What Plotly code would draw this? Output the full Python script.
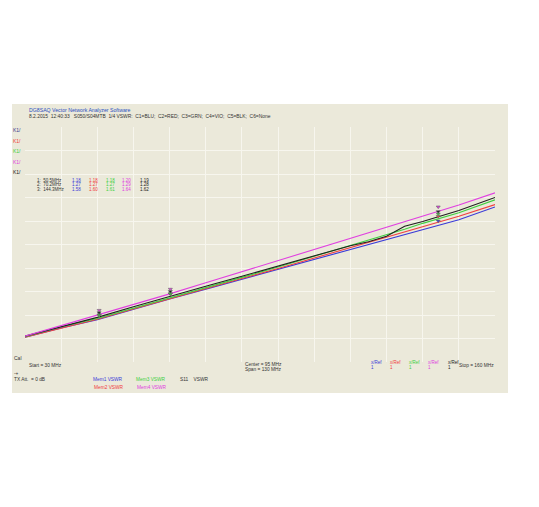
import plotly.graph_objects as go

# ---------------- data ----------------
freq_mhz = [30, 40, 50, 60, 70, 80, 90, 100, 110, 120, 125, 130, 135, 140, 150, 160]

vswr_blue    = [1.105, 1.145, 1.180, 1.225, 1.268, 1.310, 1.352, 1.395, 1.438, 1.480, 1.500, 1.520, 1.542, 1.563, 1.605, 1.660]
vswr_red     = [1.105, 1.145, 1.182, 1.226, 1.270, 1.312, 1.355, 1.398, 1.442, 1.486, 1.508, 1.530, 1.552, 1.575, 1.620, 1.670]
vswr_green   = [1.108, 1.150, 1.185, 1.228, 1.272, 1.315, 1.360, 1.404, 1.450, 1.495, 1.517, 1.540, 1.565, 1.590, 1.635, 1.690]
vswr_magenta = [1.110, 1.155, 1.198, 1.244, 1.290, 1.337, 1.384, 1.430, 1.477, 1.524, 1.548, 1.572, 1.596, 1.620, 1.668, 1.720]
vswr_black   = [1.110, 1.150, 1.190, 1.235, 1.280, 1.322, 1.365, 1.408, 1.452, 1.495, 1.512, 1.535, 1.578, 1.598, 1.645, 1.700]

trace_names = ["C1", "C2", "C3", "C4", "C5"]
trace_colors = ["#3a3ad8", "#f04040", "#40d040", "#e040e0", "#202020"]

marker_freqs = [50.5, 70.2, 144.3]
marker_labels = ["1:  50.5MHz", "2:  70.2MHz", "3:  144.3MHz"]
marker_blue    = [1.18, 1.27, 1.58]
marker_red     = [1.18, 1.27, 1.60]
marker_green   = [1.18, 1.27, 1.61]
marker_magenta = [1.20, 1.29, 1.64]
marker_black   = [1.19, 1.28, 1.62]

x_start, x_stop = 30, 160
y_min, y_max = 1.0, 2.0

# ---------------- figure ----------------
OFF = 8                      # page body margin
W, H = 539 - OFF, 507 - OFF
L, R, T, B = 25, 495, 127, 362   # plot area in reference pixels

def px(x):
    return (x - L) / (R - L)

def py(y):
    return (B - y) / (B - T)

fig = go.Figure()

series = [vswr_blue, vswr_red, vswr_green, vswr_black, vswr_magenta]
series_colors = [trace_colors[0], trace_colors[1], trace_colors[2], trace_colors[4], trace_colors[3]]
for vals, col in zip(series, series_colors):
    fig.add_trace(go.Scatter(x=freq_mhz, y=vals, mode="lines",
                             line=dict(color=col, width=1.1), hoverinfo="skip",
                             showlegend=False))

# marker stacks
mvals = [marker_blue, marker_red, marker_green, marker_black, marker_magenta]
for vals, col in zip(mvals, series_colors):
    fig.add_trace(go.Scatter(x=marker_freqs, y=[v + 0.02 for v in vals], mode="markers",
                             marker=dict(symbol="triangle-down", size=3.5, color=col,
                                         line=dict(color="#666666", width=0.6)),
                             hoverinfo="skip", showlegend=False))

bg = "#ebe9da"
grid = "#f7f6ee"

fig.update_layout(
    width=W, height=H,
    margin=dict(l=L - OFF, r=W - (R - OFF), t=T - OFF, b=H - (B - OFF), pad=0),
    paper_bgcolor="white",
    plot_bgcolor=bg,
    xaxis=dict(range=[x_start, x_stop], dtick=10, tick0=30, showticklabels=False,
               showgrid=True, gridcolor=grid, gridwidth=1, zeroline=False,
               showline=False, ticks=""),
    yaxis=dict(range=[y_min, y_max], dtick=0.1, tick0=1.0, showticklabels=False,
               showgrid=True, gridcolor=grid, gridwidth=1, zeroline=False,
               showline=False, ticks=""),
    font=dict(family="Liberation Sans, Arial, sans-serif", size=5, color="#333333"),
)

# beige panel behind everything
fig.add_shape(type="rect", xref="paper", yref="paper",
              x0=px(12), x1=px(508), y0=py(393), y1=py(104),
              fillcolor=bg, line=dict(width=0), layer="below")

ann = []

def text(x, y, s, color="#333333", size=5, anchor="left"):
    ann.append(dict(x=px(x), y=py(y), xref="paper", yref="paper", text=s,
                    showarrow=False, xanchor=anchor, yanchor="middle",
                    font=dict(size=size, color=color)))

text(27, 110, "DG8SAQ Vector Network Analyzer Software", color="#2a4fc0", size=5.2)
text(27, 117, "8.2.2015  12:40:33   S050/S04MTB  1/4 VSWR:  C1=BLU;  C2=RED;  C3=GRN;  C4=VIO;  C5=BLK;  C6=None", size=4.9)

k_colors = ["#3a3a90", "#f04040", "#40d040", "#e040e0", "#202020"]
for i, c in enumerate(k_colors):
    text(11, 130 + i * 10.5, "K1/", color=c, size=5)

# marker readout table
table_cols = [marker_blue, marker_red, marker_green, marker_magenta, marker_black]
table_colors = [trace_colors[0], trace_colors[1], trace_colors[2], trace_colors[3], trace_colors[4]]
col_x = [70, 87, 104, 120, 138]
for r, lab in enumerate(marker_labels):
    yy = 180 + r * 4.8
    text(35, yy, lab, size=4.5)
    for c, (vals, col) in enumerate(zip(table_cols, table_colors)):
        text(col_x[c], yy, f"{vals[r]:.2f}", color=col, size=4.5)

text(12, 358, "Cal", size=5)
text(27, 365, "Start = 30 MHz", size=4.8)
text(243, 364, "Center = 95 MHz", size=4.8)
text(243, 369.5, "Span = 130 MHz", size=4.8)
text(496, 365, "Stop = 160 MHz", size=4.8, anchor="right")
text(12, 373, "-+", size=4.8)
text(12, 379, "TX Att.  = 0 dB", size=4.8)

text(91, 379, "Mem1 VSWR", color=trace_colors[0], size=4.8)
text(92, 387, "Mem2 VSWR", color=trace_colors[1], size=4.8)
text(134, 379, "Mem3 VSWR", color=trace_colors[2], size=4.8)
text(135, 387, "Mem4 VSWR", color=trace_colors[3], size=4.8)
text(178, 379, "S11    VSWR", size=4.8)

ref_x = [369, 388, 407, 426, 446]
for i, (xx, col) in enumerate(zip(ref_x, table_colors)):
    text(xx, 362, "x/Ref", color=col, size=4.5)
    text(xx, 367.5, "1", color=col, size=4.5)

fig.update_layout(annotations=ann)

fig.write_html("out.html")
